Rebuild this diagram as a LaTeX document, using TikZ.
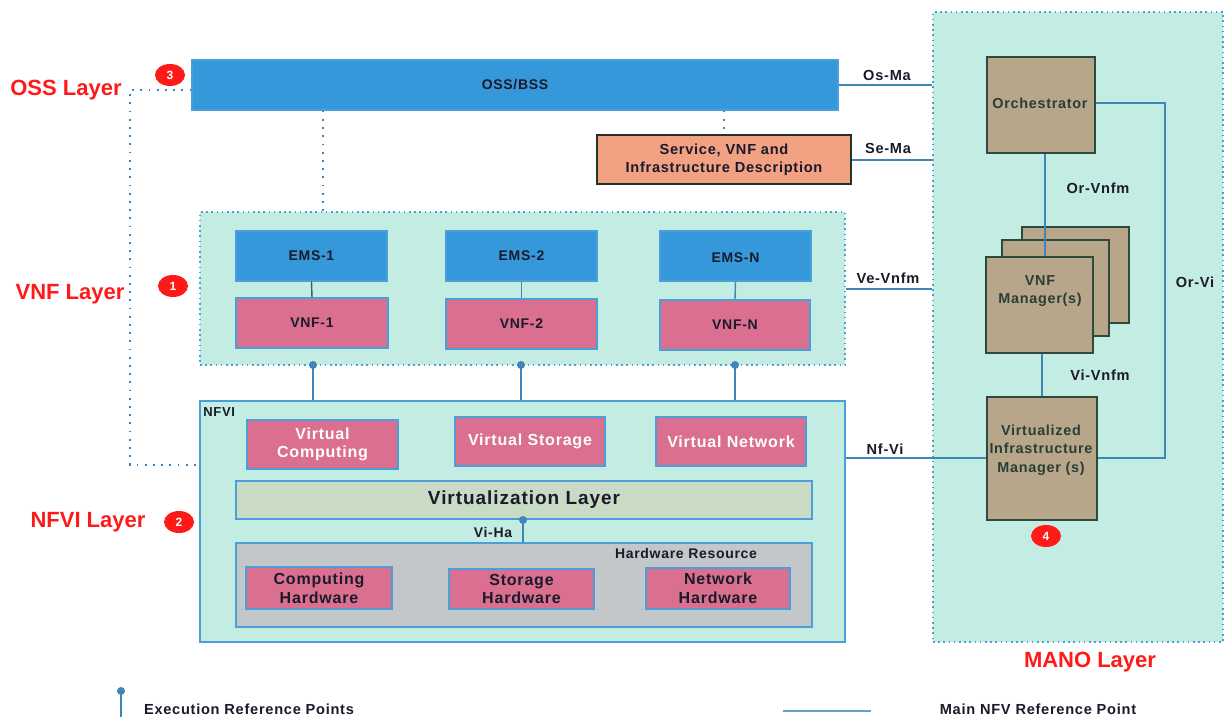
\documentclass[tikz,border=0pt]{standalone}
\usepackage{fontspec}
\setmainfont[LetterSpace=5]{Liberation Sans}
\newfontfamily\plainsans{Liberation Sans}
\usetikzlibrary{fit,shapes.geometric}
\definecolor{ossblue}{HTML}{3598DB}
\definecolor{pinkbox}{HTML}{DB6F8F}
\definecolor{mint}{HTML}{C3ECE3}
\definecolor{brownbox}{HTML}{B8A68A}
\definecolor{salmon}{HTML}{F2A283}
\definecolor{bordblue}{HTML}{4A9FD8}
\definecolor{linecol}{HTML}{3E86B8}
\definecolor{redlab}{HTML}{FF1A1A}
\definecolor{txt}{HTML}{1A1A2A}
\definecolor{darkbord}{HTML}{2E4A3E}
\definecolor{virtlayer}{HTML}{C9DAC5}
\definecolor{hwgray}{HTML}{C4C7CA}
\begin{document}
\begin{tikzpicture}[x=0.5pt,y=-0.5pt,
  lbl/.style={font=\fontsize{7}{8}\selectfont\bfseries, text=txt, align=center},
  mid/.style={lbl, font=\fontsize{7.3}{8.5}\selectfont\bfseries},
  big/.style={lbl, font=\fontsize{8}{9.3}\selectfont\bfseries},
  boxbase/.style={inner sep=0pt, line width=0.7pt},
  bluebox/.style={boxbase, draw=bordblue, fill=ossblue},
  pinkb/.style={boxbase, draw=bordblue, fill=pinkbox},
  brown/.style={boxbase, draw=darkbord, fill=brownbox},
  browntxt/.style={lbl, text=darkbord!85!black, font=\fontsize{7.2}{9.2}\selectfont\bfseries},
  layer/.style={inner sep=0pt, fill=mint, draw=bordblue, line width=0.7pt, dash pattern=on 0.8pt off 1.8pt},
  conn/.style={draw=linecol, line width=0.7pt},
  dotl/.style={draw=linecol, line width=0.9pt, dash pattern=on 0.9pt off 3.2pt},
  badge/.style={ellipse, fill=redlab, minimum width=15pt, minimum height=11pt, inner sep=0pt, text=white, font=\plainsans\fontsize{6}{6}\selectfont\bfseries},
  layerlbl/.style={text=redlab, font=\plainsans\fontsize{11}{12}\selectfont\bfseries},
  ept/.style={circle, fill=linecol, inner sep=0pt, minimum size=4pt}
]
\useasboundingbox (0,0) rectangle (1225,717);

% MANO region
\node[layer, fit={(933,12)(1223,642)}] (mano) {};
\node[layerlbl] (manolbl) at (1090,662) {MANO Layer};

% OSS
\node[bluebox, fit={(192,60)(838,110)}] (oss) {};
\node[lbl] at (oss.center) {OSS/BSS};
\node[badge] (b3) at (170,75) {3};
\node[layerlbl] (osslbl) at (66,90) {OSS Layer};

% Service description
\node[boxbase, draw=darkbord!70!black, fill=salmon, fit={(597,135)(851,184)}] (sd) {};
\node[mid, font=\fontsize{7.3}{9}\selectfont\bfseries] at (sd.center) {Service, VNF and\\Infrastructure Description};

% VNF layer
\node[layer, fit={(200,212)(845,365)}] (vnfl) {};
\node[layerlbl] (vnflbl) at (70,294) {VNF Layer};
\node[badge] (b1) at (173,286) {1};

\node[bluebox, fit={(236,231)(387,281)}] (ems1) {};
\node[lbl] at (ems1.center) {EMS-1};
\node[bluebox, fit={(446,231)(597,281)}] (ems2) {};
\node[lbl] at (ems2.center) {EMS-2};
\node[bluebox, fit={(660,231)(811,281)}] (emsn) {};
\node[lbl] at ([yshift=-1pt]emsn.center) {EMS-N};

\node[pinkb, fit={(236,298)(388,348)}] (vnf1) {};
\node[lbl] at (vnf1.center) {VNF-1};
\node[pinkb, fit={(446,299)(597,349)}] (vnf2) {};
\node[lbl] at (vnf2.center) {VNF-2};
\node[pinkb, fit={(660,300)(810,350)}] (vnfn) {};
\node[lbl] at (vnfn.center) {VNF-N};

\draw[conn, draw=darkbord!60!linecol] (ems1.south) -- (vnf1.north);
\draw[conn] (ems2.south) -- (vnf2.north);
\draw[conn] (emsn.south) -- (vnfn.north);

% NFVI
\node[inner sep=0pt, fill=mint, draw=bordblue, line width=0.7pt, fit={(200,401)(845,642)}] (nfvi) {};
\node[lbl, anchor=north west, inner sep=0pt, font=\fontsize{6.5}{7}\selectfont\bfseries] at (203,407) {NFVI};
\node[layerlbl] (nfvilbl) at (88,522) {NFVI Layer};
\node[badge] (b2) at (179,522) {2};

\node[pinkb, fit={(247,420)(398,469)}] (vc) {};
\node[big, text=white] at (vc.center) {Virtual\\Computing};
\node[pinkb, fit={(455,417)(605,466)}] (vs) {};
\node[big, text=white] at (vs.center) {Virtual Storage};
\node[pinkb, fit={(656,417)(806,466)}] (vn) {};
\node[big, text=white] at (vn.center) {Virtual Network};

\node[boxbase, draw=bordblue, fill=virtlayer, fit={(236,481)(812,519)}] (virt) {};
\node[lbl, font=\fontsize{9.5}{10}\selectfont\bfseries] at (virt.center) {Virtualization Layer};

\node[boxbase, draw=bordblue, fill=hwgray, fit={(236,543)(812,627)}] (hw) {};
\node[lbl] at (686,553) {Hardware Resource};

\node[pinkb, fit={(246,567)(392,609)}] (ch) {};
\node[big] at (ch.center) {Computing\\Hardware};
\node[pinkb, fit={(449,569)(594,609)}] (sh) {};
\node[big] at (sh.center) {Storage\\Hardware};
\node[pinkb, fit={(646,568)(790,609)}] (nh) {};
\node[big] at (nh.center) {Network\\Hardware};

% Vi-Ha
\node[ept] (viha) at (523,520) {};
\draw[conn] (viha.center) -- (hw.north -| viha);
\node[lbl] at (493,532) {Vi-Ha};

% Execution points VNF -> NFVI
\node[ept] (e1) at (313,365) {};
\node[ept] (e2) at (521,365) {};
\node[ept] (e3) at (735,365) {};
\draw[conn] (e1.center) -- (nfvi.north -| e1);
\draw[conn] (e2.center) -- (nfvi.north -| e2);
\draw[conn] (e3.center) -- (nfvi.north -| e3);

% Dotted connectors
\coordinate (d1) at (130,90);
\coordinate (d2) at (130,465);
\draw[dotl] (oss.west |- d1) -- (d1) -- (d2) -- (nfvi.west |- d2);
\draw[dotl] (oss.south -| 323,0) -- (vnfl.north -| 323,0);
\draw[dotl] (oss.south -| sd.north) -- (sd.north);

% MANO internals
\node[brown, fit={(987,57)(1095,153)}] (orch) {};
\node[browntxt] at (1040,103) {Orchestrator};

\node[brown, fit={(1022,227)(1129,323)}] (vnfm3) {};
\node[brown, fit={(1002,240)(1109,336)}] (vnfm2) {};
\node[brown, fit={(986,257)(1093,353)}] (vnfm) {};
\node[browntxt] at (1040,291) {VNF\\Manager(s)};

\node[brown, fit={(987,397)(1097,520)}] (vim) {};
\node[browntxt] at (1041,450) {Virtualized\\Infrastructure\\Manager (s)};
\node[badge] (b4) at (1046,536) {4};

% Reference points
\draw[conn] (oss.east |- 0,85) -- (mano.west |- 0,85);
\node[mid] at (887,75) {Os-Ma};
\draw[conn] (sd.east |- 0,160) -- (mano.west |- 0,160);
\node[mid] at (888,148) {Se-Ma};
\draw[conn] (vnfl.east |- 0,289) -- (mano.west |- 0,289);
\node[mid] at (888,278) {Ve-Vnfm};
\draw[conn] (nfvi.east |- 0,458) -- (vim.west |- 0,458);
\node[mid] at (885,449) {Nf-Vi};
\draw[conn] (orch.south -| 1045,0) -- (vnfm.north -| 1045,0);
\node[mid] at (1098,188) {Or-Vnfm};
\draw[conn] (vnfm.south -| 1042,0) -- (vim.north -| 1042,0);
\node[mid] at (1100,375) {Vi-Vnfm};
\draw[conn] (orch.east |- 0,103) -- (1165,103) -- (1165,458) -- (vim.east |- 0,458);
\node[mid] at (1195,282) {Or-Vi};

% Legend
\node[ept] (lg1) at (121,691) {};
\draw[conn] (lg1.center) -- (121,717);
\node[mid] at (249,709) {Execution Reference Points};
\coordinate (lg2a) at (783,711);
\coordinate (lg2b) at (871,711);
\draw[conn, line width=1pt, draw=linecol!80] (lg2a) -- (lg2b);
\node[mid] at (1038,709) {Main NFV Reference Point};
\end{tikzpicture}
\end{document}
